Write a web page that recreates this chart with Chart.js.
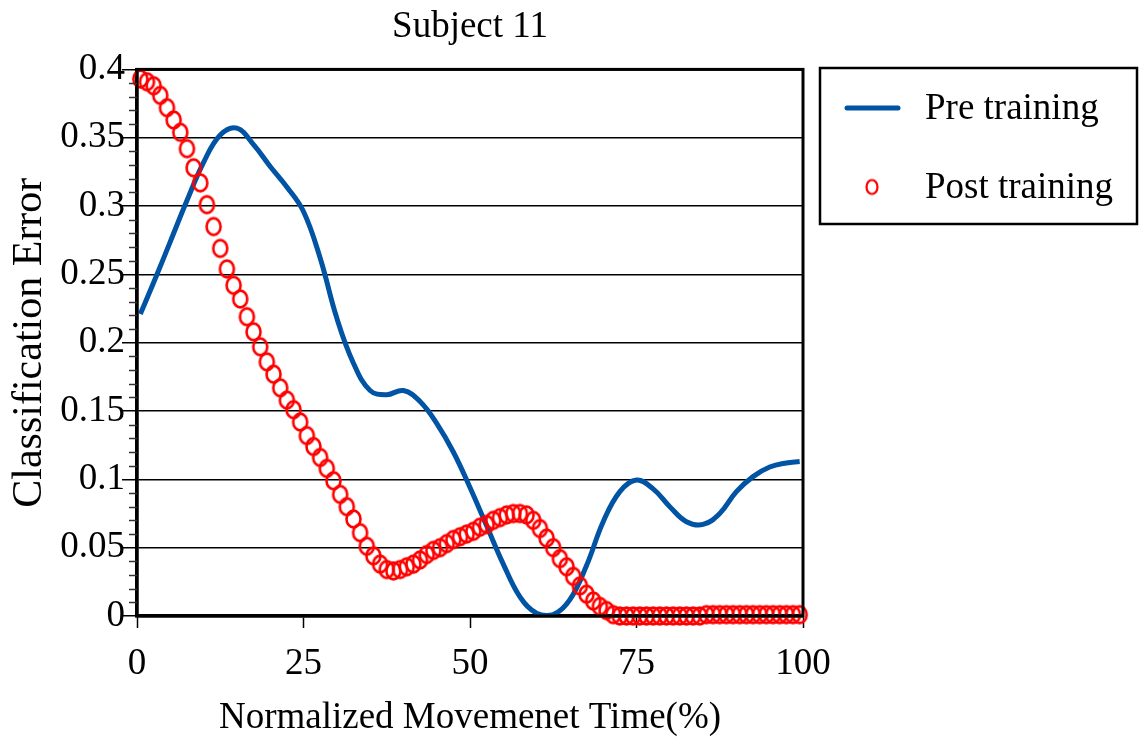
<!DOCTYPE html>
<html>
<head>
<meta charset="utf-8">
<script src="https://cdn.jsdelivr.net/npm/chart.js@4"></script>
<style>
  html, body { margin: 0; padding: 0; background: #fff; }
  #wrap { width: 1139px; height: 744px; }
</style>
</head>
<body>
<div id="wrap"><canvas id="myChart"></canvas></div>
<script>
  // pre training curve
  const preTime = [0.5, 2.5, 5, 7.5, 10, 12.5, 15, 17.5, 20, 22.5, 25, 27.5, 30, 32.5, 35, 37.5, 40, 42.5, 45, 47.5,
    50, 52.5, 55, 57.5, 60, 62.5, 65, 67.5, 70, 72.5, 75, 77.5, 80, 82.5, 85, 87.5, 90, 92.5, 95, 97.5, 99.5];
  const preError = [0.221, 0.244, 0.274, 0.304, 0.332, 0.352, 0.357, 0.345, 0.329, 0.314, 0.296, 0.262, 0.218, 0.185,
    0.165, 0.162, 0.165, 0.157, 0.141, 0.120, 0.094, 0.066, 0.038, 0.014, 0.002, 0.001, 0.012, 0.037, 0.069, 0.091,
    0.0995, 0.093, 0.080, 0.069, 0.067, 0.075, 0.091, 0.102, 0.109, 0.112, 0.113];

  // post training, one circle per percent bin
  const postError = [
    0.393, 0.391, 0.388, 0.381, 0.372, 0.363, 0.354, 0.342, 0.328, 0.317,
    0.301, 0.285, 0.269, 0.254, 0.242, 0.232, 0.219, 0.208, 0.197, 0.186,
    0.177, 0.167, 0.158, 0.151, 0.142, 0.132, 0.124, 0.116, 0.108, 0.099,
    0.089, 0.080, 0.071, 0.061, 0.051, 0.044, 0.038, 0.034, 0.033, 0.034,
    0.036, 0.038, 0.041, 0.045, 0.048, 0.050, 0.053, 0.056, 0.058, 0.060,
    0.062, 0.065, 0.067, 0.070, 0.072, 0.074, 0.075, 0.075, 0.074, 0.070,
    0.064, 0.057, 0.050, 0.042, 0.036, 0.029, 0.022, 0.016, 0.011, 0.007,
    0.004, 0.001, 0, 0, 0, 0, 0, 0, 0, 0,
    0, 0, 0, 0, 0, 0.001, 0.001, 0.001, 0.001, 0.001,
    0.001, 0.001, 0.001, 0.001, 0.001, 0.001, 0.001, 0.001, 0.001, 0.001
  ];

  const xTickLabels = ['0', '25', '50', '75', '100'];
  const yTickLabels = ['0', '0.05', '0.1', '0.15', '0.2', '0.25', '0.3', '0.35', '0.4'];

  const FONT = "'Liberation Serif', 'Times New Roman', serif";
  const BLUE = '#0054a3';
  const RED = '#ff0000';

  const preData = preTime.map((t, i) => ({ x: t, y: preError[i] }));
  const postData = postError.map((v, i) => ({ x: i + 0.5, y: v }));

  // the markers in the original are slightly tall ellipses
  function makeRing(rx, ry, lw) {
    const cv = document.createElement('canvas');
    cv.width = Math.ceil(2 * rx + lw + 2);
    cv.height = Math.ceil(2 * ry + lw + 2);
    const g = cv.getContext('2d');
    g.strokeStyle = RED;
    g.lineWidth = lw;
    g.beginPath();
    g.ellipse(cv.width / 2, cv.height / 2, rx, ry, 0, 0, Math.PI * 2);
    g.stroke();
    return cv;
  }
  const ring = makeRing(7, 8.4, 2.6);
  const legendRing = makeRing(5.5, 7, 2.2);

  // frame, minor ticks and the boxed legend
  const extras = {
    id: 'extras',
    afterDraw(chart) {
      const c = chart.ctx;
      const a = chart.chartArea;
      const y = chart.scales.y;
      c.save();
      c.strokeStyle = '#000';
      c.lineWidth = 3;
      c.strokeRect(a.left, a.top, a.right - a.left, a.bottom - a.top);

      c.lineWidth = 1.5;
      c.strokeStyle = '#333';
      for (let k = 1; k < 40; k++) {
        if (k % 5 === 0) continue;
        const py = Math.round(y.getPixelForValue(k / 100)) + 0.5;
        c.beginPath();
        c.moveTo(a.left - 8, py);
        c.lineTo(a.left, py);
        c.stroke();
      }

      // legend
      c.strokeStyle = '#000';
      c.lineWidth = 2.5;
      c.strokeRect(820, 68, 317, 156);
      c.strokeStyle = BLUE;
      c.lineWidth = 5;
      c.lineCap = 'round';
      c.beginPath();
      c.moveTo(847, 108);
      c.lineTo(898, 108);
      c.stroke();
      c.drawImage(legendRing, 872 - legendRing.width / 2, 187 - legendRing.height / 2);
      c.fillStyle = '#000';
      c.font = '37px ' + FONT;
      c.textBaseline = 'middle';
      c.textAlign = 'left';
      c.fillText('Pre training', 925, 109);
      c.fillText('Post training', 925, 188);
      c.restore();
    }
  };

  new Chart(document.getElementById('myChart'), {
    type: 'line',
    data: {
      datasets: [{
        label: 'Pre training',
        data: preData,
        borderColor: BLUE,
        borderWidth: 5,
        pointRadius: 0,
        tension: 0.4,
        fill: false,
        order: 1
      }, {
        label: 'Post training',
        data: postData,
        showLine: false,
        pointStyle: ring,
        pointRadius: 9,
        borderColor: RED,
        clip: false,
        order: 0
      }]
    },
    options: {
      responsive: true,
      maintainAspectRatio: false,
      animation: false,
      layout: { padding: { left: 0, right: 336, top: 0, bottom: 0 } },
      plugins: {
        legend: { display: false },
        tooltip: { enabled: false },
        title: {
          display: true,
          text: 'Subject 11',
          fullSize: false,
          color: '#000',
          font: { family: FONT, size: 37, weight: 'normal' },
          padding: { top: 5, bottom: 20 }
        }
      },
      scales: {
        x: {
          type: 'linear',
          min: 0,
          max: 100,
          afterFit(s) { s.height = 128; },
          afterBuildTicks(s) { s.ticks = xTickLabels.map(v => ({ value: Number(v) })); },
          ticks: {
            color: '#000',
            padding: 14,
            font: { family: FONT, size: 37 },
            callback: (v) => String(v)
          },
          grid: { drawOnChartArea: false, drawTicks: true, tickLength: 12, tickColor: '#000', tickWidth: 1.5 },
          border: { display: true, color: '#000', width: 3.5 },
          title: {
            display: true,
            text: 'Normalized Movemenet Time(%)',
            color: '#000',
            font: { family: FONT, size: 37 },
            padding: { top: 0, bottom: 4 }
          }
        },
        y: {
          min: 0,
          max: 0.4,
          afterFit(s) { s.width = 137; },
          afterBuildTicks(s) { s.ticks = yTickLabels.map(v => ({ value: Number(v) })); },
          ticks: {
            color: '#000',
            padding: -3,
            font: { family: FONT, size: 37 },
            callback: (v, i) => yTickLabels[i]
          },
          grid: { color: '#000', lineWidth: 1.5, tickLength: 15, tickColor: '#000', tickWidth: 1.5 },
          border: { display: true, color: '#000', width: 3.5 },
          title: {
            display: true,
            text: 'Classification Error',
            color: '#000',
            font: { family: FONT, size: 42 },
            padding: { top: 5, bottom: 0 }
          }
        }
      }
    },
    plugins: [extras]
  });
</script>
</body>
</html>
